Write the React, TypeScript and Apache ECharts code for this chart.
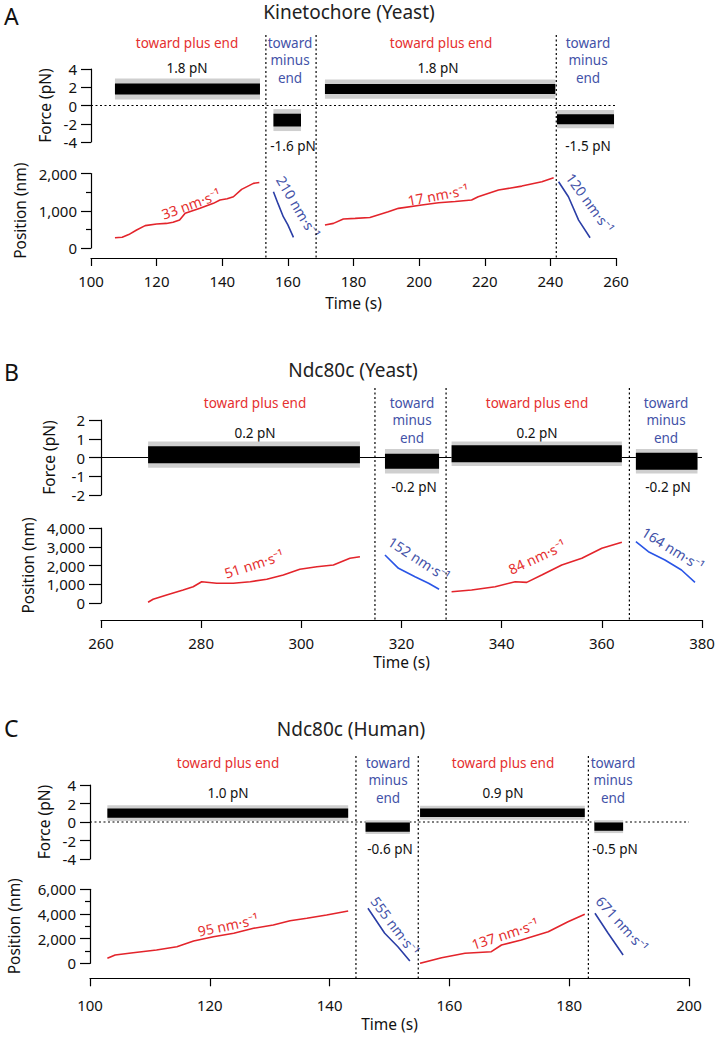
import React, { useEffect, useRef } from "react";
import * as echarts from "echarts";

// ---------------- DATA ----------------
// force segments: [start s, end s, mean pN, black half-range pN, grey half-range pN]
const forceSegsA = [
  [107.3, 151.5, 1.8, 0.6, 1.15],
  [155.6, 164.0, -1.6, 0.7, 1.2],
  [171.3, 241.5, 1.8, 0.55, 1.05],
  [242.0, 259.4, -1.5, 0.55, 1.0],
];
const forceSegsB = [
  [269.4, 311.7, 0.15, 0.45, 0.7],
  [316.7, 327.5, -0.2, 0.4, 0.65],
  [330.0, 364.0, 0.2, 0.45, 0.65],
  [366.8, 379.1, -0.2, 0.45, 0.65],
];
const forceSegsC = [
  [102.9, 143.1, 0.95, 0.5, 0.85],
  [146.0, 153.4, -0.55, 0.5, 0.75],
  [155.1, 182.6, 1.0, 0.45, 0.75],
  [184.2, 189.0, -0.5, 0.45, 0.7],
];

// position traces [time s, position nm]
const posA1 = [[107.3,276],[109.5,290],[111.5,360],[113.9,482],[116.5,600],[120,643],[123,660],[125,690],[127,750],[128.7,930],[133.2,1064],[137.3,1198],[139.3,1287],[141.5,1320],[143.4,1376],[145.9,1573],[149.5,1734],[151.3,1760]];
const posA2 = [[155.6,1510],[157,1190],[158.6,840],[160,620],[161.7,287]];
const posA3 = [[171.3,617],[173.9,661],[176.9,777],[180.5,795],[185,820],[190.6,973],[193.7,1064],[200.8,1153],[205.9,1214],[211,1250],[216,1287],[218,1376],[224.2,1555],[231.3,1662],[237.4,1778],[241,1885]];
const posA4 = [[242.5,1778],[245.5,1376],[248.6,750],[252.1,276]];

const posB1 = [[269.4,37],[270.4,197],[273.1,427],[276.4,693],[278.4,870],[280.1,1136],[283.1,1050],[286.4,1050],[289.8,1136],[293.1,1264],[296.4,1493],[299.7,1797],[303.1,1936],[306.4,2027],[309.7,2384],[311.7,2469]];
const posB2 = [[316.7,2560],[319.4,1850],[322.7,1403],[325.4,1050],[327.5,730]];
const posB3 = [[330,603],[334,693],[338.7,870],[342.7,1136],[345,1100],[348,1493],[352,2027],[356,2384],[360,2917],[364,3237]];
const posB4 = [[366.8,3269],[369.3,2736],[372.6,2293],[375.9,1760],[378.6,1100]];

const posC1 = [[102.9,405],[104.2,673],[107.2,860],[111.1,1078],[114.5,1346],[117.3,1808],[120.6,2157],[124,2433],[127.3,2838],[130.6,3105],[133.4,3455],[136.2,3650],[139.5,3917],[143.1,4241]];
const posC2 = [[146.4,4460],[149.2,2433],[151.4,1346],[153.4,187]];
const posC3 = [[155.1,0],[158.7,454],[162.6,811],[167,941],[168.7,1484],[172,1890],[176.5,2563],[179.8,3374],[182.6,3974]];
const posC4 = [[184.3,4055],[186.5,2433],[189,673]];

// switch times (dotted lines)
const switchA = [153.3, 168.6, 241.8];
const switchB = [314.7, 328.9, 365.5];
const switchC = [144.4, 154.8, 183.2];

// axis ranges [min, max, interval]
const timeAxisA = [100, 260, 20];
const timeAxisB = [260, 380, 20];
const timeAxisC = [100, 200, 20];
const forceAxisA = [-4, 4, 2];
const forceAxisB = [-2, 2, 1];
const forceAxisC = [-4, 4, 2];
const posAxisA = [0, 2000, 1000];
const posAxisB = [0, 4000, 1000];
const posAxisC = [0, 6000, 2000];

// texts
const titles = ["Kinetochore (Yeast)", "Ndc80c (Yeast)", "Ndc80c (Human)"];
const letters = ["A", "B", "C"];
const forceLabelsA = ["1.8 pN", "-1.6 pN", "1.8 pN", "-1.5 pN"];
const forceLabelsB = ["0.2 pN", "-0.2 pN", "0.2 pN", "-0.2 pN"];
const forceLabelsC = ["1.0 pN", "-0.6 pN", "0.9 pN", "-0.5 pN"];
const ratesA = [33, 210, 17, 120];
const ratesB = [51, 152, 84, 164];
const ratesC = [95, 555, 137, 671];
const PLUS = "toward plus end";
const MINUS = "toward\nminus\nend";

// ---------------- LAYOUT / STYLE ----------------
const FONT = "'Noto Sans', 'Open Sans', sans-serif";
const RED = "#e3242b";
const RED_TEXT = "#e5302f";
const BLUE_TEXT = "#4352a8";

const panels = [
  {
    left: 91, width: 525, fTop: 69, fH: 73, pTop: 173.5, pH: 74.5, oTop: 35, xOff: 10,
    time: timeAxisA, force: forceAxisA, pos: posAxisA, posMinor: true, zeroSolid: false,
    segs: forceSegsA, traces: [posA1, posA2, posA3, posA4], switches: switchA,
    blue: "#2b3ea6", tick: 10, fGap: 36, pGap: 60, xGap: 37, xMargin: 15,
    letterY: 16, titleX: 349, titleY: 12,
    dirX: [187, 290, 441, 588], dirY: 43,
    fLabelX: [187, 293, 438, 588], fLabelY: [68, 146, 68, 146],
    fLabels: forceLabelsA, rates: ratesA,
    rateXY: [[191, 204], [298, 207], [438, 195], [590, 203]],
    rateRot: [20, -59, 10.5, -54],
  },
  {
    left: 101, width: 601, fTop: 420, fH: 75, pTop: 528, pH: 75, oTop: 388, xOff: 17,
    time: timeAxisB, force: forceAxisB, pos: posAxisB, posMinor: false, zeroSolid: true,
    segs: forceSegsB, traces: [posB1, posB2, posB3, posB4], switches: switchB,
    blue: "#2a55e6", tick: 12, fGap: 44, pGap: 62, xGap: 34, xMargin: 15,
    letterY: 372, titleX: 353, titleY: 370,
    dirX: [255, 412, 537, 666], dirY: 403,
    fLabelX: [255, 414, 537, 668], fLabelY: [433, 487, 433, 487],
    fLabels: forceLabelsB, rates: ratesB,
    rateXY: [[254, 564], [419, 559], [537, 557], [673, 549]],
    rateRot: [18, -33, 25, -32],
  },
  {
    left: 90, width: 599, fTop: 785, fH: 74, pTop: 889.3, pH: 74, oTop: 756, xOff: 15,
    time: timeAxisC, force: forceAxisC, pos: posAxisC, posMinor: true, zeroSolid: false,
    segs: forceSegsC, traces: [posC1, posC2, posC3, posC4], switches: switchC,
    blue: "#2b3ea6", tick: 10, fGap: 36, pGap: 68, xGap: 38, xMargin: 19,
    letterY: 728, titleX: 351, titleY: 729,
    dirX: [228, 388, 503, 613], dirY: 763,
    fLabelX: [228, 390, 503, 615], fLabelY: [793, 849, 793, 849],
    fLabels: forceLabelsC, rates: ratesC,
    rateXY: [[228, 925], [395, 926], [505, 934], [622, 924]],
    rateRot: [12, -53, 18, -48],
  },
];

const fmt = (v: number) => v.toLocaleString("en-US");

function buildOption() {
  const grid: any[] = [];
  const xAxis: any[] = [];
  const yAxis: any[] = [];
  const series: any[] = [];
  const graphic: any[] = [];

  panels.forEach((p, i) => {
    const base = i * 3;
    const [tMin, tMax, tStep] = p.time;
    grid.push({ left: p.left, width: p.width, top: p.fTop, height: p.fH, outerBoundsMode: "none", containLabel: false });
    grid.push({ left: p.left, width: p.width, top: p.pTop, height: p.pH, outerBoundsMode: "none", containLabel: false });
    const oBottom = p.pTop + p.pH + p.xOff;
    grid.push({ left: p.left, width: p.width, top: p.oTop, height: oBottom - p.oTop, outerBoundsMode: "none", containLabel: false });

    const lineSt = { color: "#000", width: 1.2 };
    const labelSt = { color: "#111", fontSize: 15, fontFamily: FONT };
    const nameSt = { color: "#111", fontSize: 15.5, fontFamily: FONT };

    xAxis.push({ type: "value", gridIndex: base, min: tMin, max: tMax, interval: tStep, show: false });
    xAxis.push({
      type: "value", gridIndex: base + 1, min: tMin, max: tMax, interval: tStep,
      position: "bottom", offset: p.xOff,
      axisLine: { show: true, onZero: false, lineStyle: lineSt },
      axisTick: { show: true, inside: false, length: 8, lineStyle: lineSt },
      axisLabel: { ...labelSt, margin: p.xMargin, formatter: fmt },
      splitLine: { show: false },
      name: "Time (s)", nameLocation: "middle", nameGap: p.xGap, nameTextStyle: nameSt,
    });
    xAxis.push({ type: "value", gridIndex: base + 2, min: tMin, max: tMax, show: false });

    yAxis.push({
      type: "value", gridIndex: base, min: p.force[0], max: p.force[1], interval: p.force[2],
      position: "left",
      axisLine: { show: true, onZero: false, lineStyle: lineSt },
      axisTick: { show: true, inside: false, length: p.tick, lineStyle: lineSt },
      axisLabel: { ...labelSt, margin: p.tick + 4 },
      splitLine: { show: false },
      name: "Force (pN)", nameLocation: "middle", nameGap: p.fGap, nameTextStyle: nameSt,
    });
    yAxis.push({
      type: "value", gridIndex: base + 1, min: p.pos[0], max: p.pos[1], interval: p.pos[2],
      position: "left",
      axisLine: { show: true, onZero: false, lineStyle: lineSt },
      axisTick: { show: true, inside: false, length: p.tick, lineStyle: lineSt },
      minorTick: { show: p.posMinor, splitNumber: 2, length: 5, lineStyle: lineSt },
      axisLabel: { ...labelSt, margin: p.tick + 4, formatter: fmt },
      splitLine: { show: false },
      name: "Position (nm)", nameLocation: "middle", nameGap: p.pGap, nameTextStyle: nameSt,
    });
    yAxis.push({ type: "value", gridIndex: base + 2, min: 0, max: 1, show: false });

    // zero line
    series.push({
      type: "custom", xAxisIndex: base, yAxisIndex: base, silent: true, z: 1,
      data: [[tMin, 0, tMax]], encode: { x: [0, 2], y: 1 },
      renderItem: (_params: any, api: any) => {
        const a = api.coord([api.value(0), 0]);
        const b = api.coord([api.value(2), 0]);
        return {
          type: "line", shape: { x1: a[0], y1: a[1], x2: b[0], y2: b[1] },
          style: { stroke: "#000", lineWidth: 1.2, lineDash: p.zeroSolid ? null : [2, 2.5] },
        };
      },
    });

    // force traces (grey envelope + black core)
    series.push({
      type: "custom", xAxisIndex: base, yAxisIndex: base, silent: true, z: 2,
      data: p.segs, encode: { x: [0, 1], y: 2 },
      renderItem: (_params: any, api: any) => {
        const s = api.value(0), e = api.value(1), m = api.value(2), bh = api.value(3), gh = api.value(4);
        const g1 = api.coord([s, m + gh]);
        const g2 = api.coord([e, m - gh]);
        const b1 = api.coord([s, m + bh]);
        const b2 = api.coord([e, m - bh]);
        return {
          type: "group",
          children: [
            { type: "rect", shape: { x: g1[0], y: g1[1], width: g2[0] - g1[0], height: g2[1] - g1[1] }, style: { fill: "#cfcfcf" } },
            { type: "rect", shape: { x: b1[0], y: b1[1], width: b2[0] - b1[0], height: b2[1] - b1[1] }, style: { fill: "#000" } },
          ],
        };
      },
    });

    // position traces
    p.traces.forEach((tr, k) => {
      series.push({
        type: "line", xAxisIndex: base + 1, yAxisIndex: base + 1, data: tr, symbol: "none",
        showSymbol: false, silent: true, z: 3,
        lineStyle: { color: k % 2 === 0 ? RED : p.blue, width: 1.6 },
      });
    });

    // dotted switch lines
    series.push({
      type: "custom", xAxisIndex: base + 2, yAxisIndex: base + 2, silent: true, z: 4,
      data: p.switches.map((t) => [t, 0]), encode: { x: 0, y: 1 },
      renderItem: (_params: any, api: any) => {
        const a = api.coord([api.value(0), 1]);
        const b = api.coord([api.value(0), 0]);
        return {
          type: "line", shape: { x1: a[0], y1: a[1], x2: b[0], y2: b[1] },
          style: { stroke: "#000", lineWidth: 1.2, lineDash: [2, 2.5] },
        };
      },
    });

    // texts
    graphic.push({
      type: "text", x: 4, y: p.letterY,
      style: { text: letters[i], fontSize: 23, fontFamily: FONT, fill: "#111", align: "left", verticalAlign: "middle", textAlign: "left", textVerticalAlign: "middle" },
    });
    graphic.push({
      type: "text", x: p.titleX, y: p.titleY,
      style: { text: titles[i], fontSize: 19, fontFamily: FONT, fill: "#222", align: "center", verticalAlign: "middle", textAlign: "center", textVerticalAlign: "middle" },
    });
    p.dirX.forEach((x, k) => {
      const plus = k % 2 === 0;
      graphic.push({
        type: "text", x, y: p.dirY - 9,
        style: {
          text: plus ? PLUS : MINUS, fontSize: 13.5, fontFamily: FONT, lineHeight: 17.5,
          fill: plus ? RED_TEXT : BLUE_TEXT, align: "center", verticalAlign: "top", textAlign: "center", textVerticalAlign: "top",
        },
      });
    });
    p.fLabelX.forEach((x, k) => {
      graphic.push({
        type: "text", x, y: p.fLabelY[k],
        style: { text: p.fLabels[k], fontSize: 13.5, fontFamily: FONT, fill: "#111", align: "center", verticalAlign: "middle", textAlign: "center", textVerticalAlign: "middle" },
      });
    });
    p.rates.forEach((r, k) => {
      const plus = k % 2 === 0;
      graphic.push({
        type: "text", x: p.rateXY[k][0], y: p.rateXY[k][1], rotation: (p.rateRot[k] * Math.PI) / 180,
        style: {
          text: `${r} nm·s⁻¹`, fontSize: 14, fontFamily: FONT, fill: plus ? RED_TEXT : BLUE_TEXT,
          align: "center", verticalAlign: "middle", textAlign: "center", textVerticalAlign: "middle",
        },
      });
    });
  });

  return { animation: false, backgroundColor: "#fff", grid, xAxis, yAxis, series, graphic };
}

export default function App() {
  const ref = useRef<HTMLDivElement>(null);
  useEffect(() => {
    document.body.style.margin = "0";
    if (!ref.current) return;
    const chart = echarts.init(ref.current, undefined, { renderer: "svg" });
    chart.setOption(buildOption() as any);
    return () => chart.dispose();
  }, []);
  return <div ref={ref} style={{ width: 715, height: 1037 }} />;
}
